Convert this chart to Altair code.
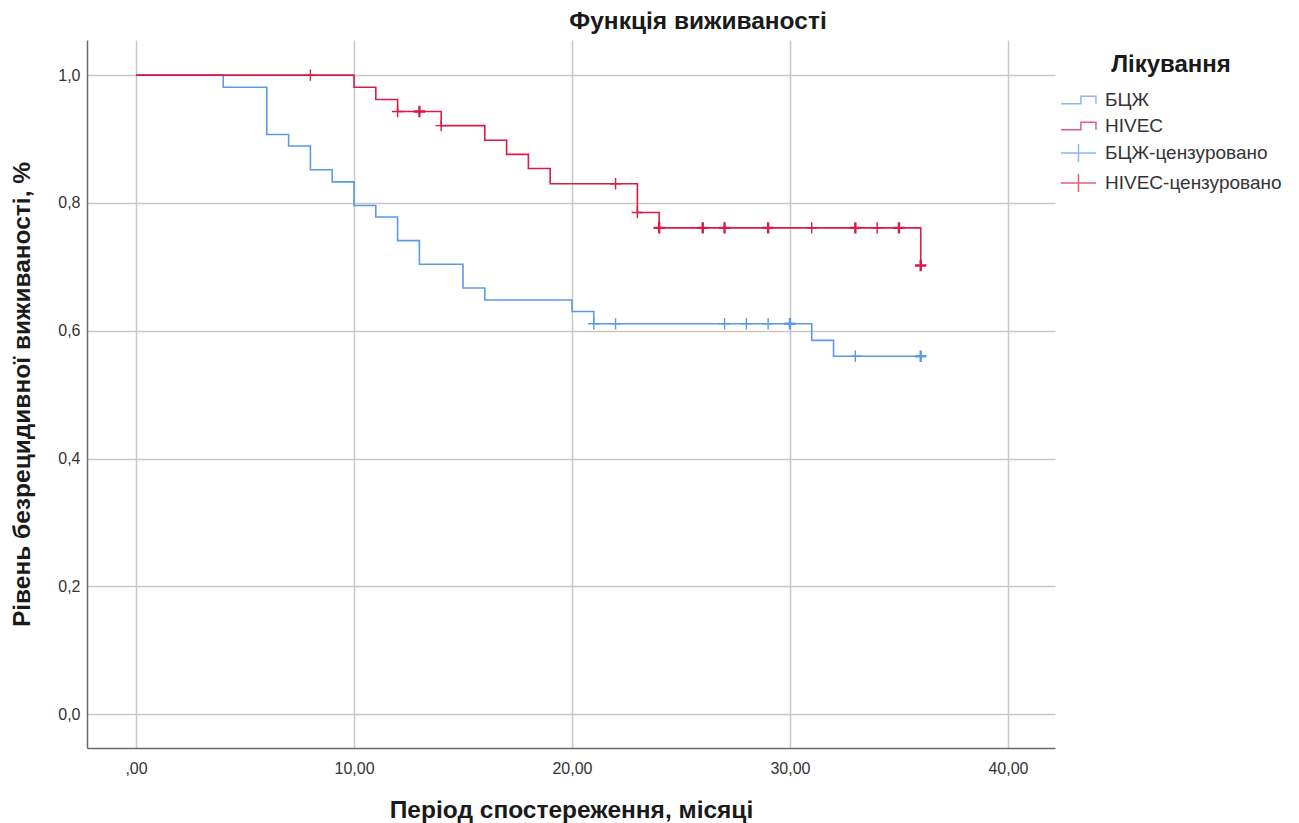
import altair as alt
import pandas as pd

# Kaplan-Meier step estimates (time in months, survival fraction)
bcg_times = [0, 4, 6, 7, 8, 9, 10, 11, 12, 13, 15, 16, 20, 21, 31, 32, 36]
bcg_surv = [1.0, 0.981, 0.907, 0.889, 0.852, 0.833, 0.796, 0.778, 0.741,
            0.704, 0.667, 0.648, 0.630, 0.611, 0.585, 0.560, 0.560]

hivec_times = [0, 10, 11, 12, 14, 16, 17, 18, 19, 23, 24, 36]
hivec_surv = [1.0, 0.981, 0.962, 0.943, 0.921, 0.898, 0.876, 0.854,
              0.830, 0.785, 0.761, 0.702]

# Censored observations: time and number of patients censored at it
bcg_cens_times = [21, 22, 27, 28, 29, 30, 33, 36]
bcg_cens_counts = [1, 1, 1, 1, 1, 2, 1, 2]
hivec_cens_times = [8, 12, 13, 14, 22, 23, 24, 26, 27, 29, 31, 33, 34, 35, 36]
hivec_cens_counts = [1, 1, 2, 1, 1, 1, 2, 2, 2, 2, 1, 2, 1, 2, 2]

series_names = ["БЦЖ", "HIVEC", "БЦЖ-цензуровано", "HIVEC-цензуровано"]
series_colors = ["#5b9be6", "#d81b48", "#5b9be6", "#d81b48"]

x_ticks = [0, 10, 20, 30, 40]
y_ticks = [0.0, 0.2, 0.4, 0.6, 0.8, 1.0]


def survival_at(t, times, surv):
    value = surv[0]
    for ti, si in zip(times, surv):
        if ti <= t:
            value = si
    return value


steps = pd.concat([
    pd.DataFrame({"t": bcg_times, "s": bcg_surv, "series": "БЦЖ", "order": range(len(bcg_times))}),
    pd.DataFrame({"t": hivec_times, "s": hivec_surv, "series": "HIVEC", "order": range(len(hivec_times))}),
])

cens = pd.concat([
    pd.DataFrame({
        "t": bcg_cens_times,
        "s": [survival_at(t, bcg_times, bcg_surv) for t in bcg_cens_times],
        "n": bcg_cens_counts,
        "series": "БЦЖ-цензуровано",
    }),
    pd.DataFrame({
        "t": hivec_cens_times,
        "s": [survival_at(t, hivec_times, hivec_surv) for t in hivec_cens_times],
        "n": hivec_cens_counts,
        "series": "HIVEC-цензуровано",
    }),
])

x_scale = alt.Scale(domain=[-2.25, 42.16], nice=False, zero=False)
y_scale = alt.Scale(domain=[-0.053, 1.055], nice=False, zero=False)
color_scale = alt.Scale(domain=series_names, range=series_colors)

# legend glyphs: a small step for the curves, a wide cross for censoring
step_icon = "M-1,0.35L0.81,0.35L0.81,-0.35L2.18,-0.35L2.18,0.35"
cross_icon = "M-1,0L2.18,0M0.59,-0.82L0.59,0.82"
shape_scale = alt.Scale(domain=series_names,
                        range=[step_icon, step_icon, cross_icon, cross_icon])

legend = alt.Legend(
    title="Лікування",
    orient="none",
    legendX=973,
    legendY=13,
    titleFontSize=24,
    titleFontWeight="bold",
    titleColor="#1a1a1a",
    titleAnchor="middle",
    titlePadding=11,
    labelFontSize=19,
    labelColor="#333333",
    labelOffset=21,
    labelLimit=400,
    rowPadding=4,
    symbolSize=484,
    symbolStrokeWidth=1.5,
    symbolFillColor="transparent",
)

x_axis = alt.Axis(
    values=x_ticks,
    labelExpr="datum.value == 0 ? ',00' : replace(format(datum.value, '.2f'), '.', ',')",
    title="Період спостереження, місяці",
    titleFontSize=24.5,
    titleFontWeight="bold",
    titleColor="#1a1a1a",
    titleY=62,
    titleBaseline="middle",
    labelFontSize=16,
    labelColor="#333333",
    labelPadding=12,
    ticks=False,
    grid=True,
)

y_axis = alt.Axis(
    values=y_ticks,
    labelExpr="replace(format(datum.value, '.1f'), '.', ',')",
    title="Рівень безрецидивної виживаності, %",
    titleFontSize=24.5,
    titleFontWeight="bold",
    titleColor="#1a1a1a",
    titleX=-65,
    titleY=354,
    titleBaseline="middle",
    labelFontSize=16,
    labelColor="#333333",
    labelPadding=7,
    ticks=False,
    grid=True,
)

lines = alt.Chart(steps).mark_line(interpolate="step-after", strokeWidth=1.6).encode(
    x=alt.X("t:Q", scale=x_scale, axis=x_axis),
    y=alt.Y("s:Q", scale=y_scale, axis=y_axis),
    color=alt.Color("series:N", scale=color_scale, legend=legend),
    order="order:Q",
)

marks = alt.Chart(cens).mark_point(
    shape="M-1,0L1,0M0,-1L0,1", size=130, filled=False, opacity=1
).encode(
    x=alt.X("t:Q", scale=x_scale),
    y=alt.Y("s:Q", scale=y_scale),
    color=alt.Color("series:N", scale=color_scale, legend=legend),
    strokeWidth=alt.condition("datum.n > 1", alt.value(2.4), alt.value(1.4)),
)

# empty layer that carries the legend glyphs
key = alt.Chart(cens).transform_filter("false").mark_point(filled=False).encode(
    x=alt.X("t:Q", scale=x_scale),
    y=alt.Y("s:Q", scale=y_scale),
    color=alt.Color("series:N", scale=color_scale, legend=legend),
    shape=alt.Shape("series:N", scale=shape_scale, legend=legend),
)

chart = alt.layer(key, lines, marks).properties(
    width=968,
    height=708,
    autosize=alt.AutoSizeParams(type="none"),
    padding={"left": 87, "top": 40, "right": 244, "bottom": 75},
    title=alt.TitleParams(
        "Функція виживаності",
        fontSize=24.5,
        fontWeight="bold",
        color="#1a1a1a",
        anchor="middle",
        dx=127,
        offset=6,
    ),
).configure(
    font="Liberation Sans",
).configure_view(
    stroke=None,
).configure_axis(
    gridColor="#c8c8c8",
    gridWidth=1.5,
    domainColor="#6b6b6b",
    domainWidth=1.5,
)

chart.save("out.html", embed_options={"renderer": "svg", "actions": False})
